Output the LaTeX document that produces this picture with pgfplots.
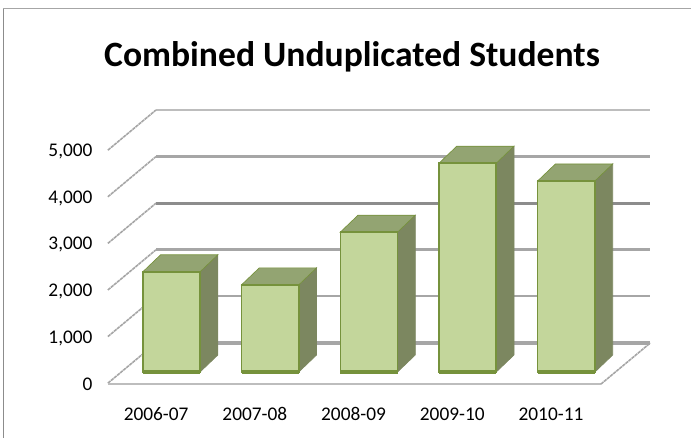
\documentclass[border=0pt]{standalone}
\usepackage{pgfplots}
\pgfplotsset{compat=1.18}
\usepackage{fontspec}
\setmainfont{Carlito}
\definecolor{barfront}{HTML}{C3D69B}
\definecolor{baredge}{HTML}{76923C}
\definecolor{bartop}{HTML}{93A472}
\definecolor{barside}{HTML}{7C8760}
\definecolor{gridA}{HTML}{A6A6A6}
\definecolor{gridB}{HTML}{8C8C8C}
\definecolor{gridC}{HTML}{BDBDBD}
% 1 reference pixel = 0.75pt; y data: 46.6 px per 1000, x data: 98.6 px per category
\pgfplotstableread{
x y
0 2150
1 1870
2 3000
3 4480
4 4100
}\bars
\begin{document}
\begin{tikzpicture}[x=0.75pt,y=0.75pt]
\useasboundingbox (0,0) rectangle (691,438);
\draw[color=gridB,line width=0.75pt] (3.5,0) -- (3.5,430);
\draw[color=gridA,line width=1.3pt] (3,429.5) -- (691,429.5);
\node[font=\bfseries\fontsize{26.7}{30}\selectfont,anchor=center] at (352,381) {Combined Unduplicated Students};
\begin{axis}[
  at={(80.9pt,39.75pt)},anchor=south west,
  scale only axis,width=369.75pt,height=184.5pt,
  xmin=-0.644,xmax=4.35,ymin=-279,ymax=5000,
  clip=false,
  axis line style={draw=none},
  major tick length=0pt,
  xtick={0,1,2,3,4},
  xticklabels={2006-07,2007-08,2008-09,2009-10,2010-11},
  ytick={0,1000,2000,3000,4000,5000},
  scaled y ticks=false,
  /pgf/number format/assume math mode=true,
  /pgf/number format/1000 sep={,},
  tick label style={font=\fontsize{14.5}{16}\selectfont},
  y tick label style={yshift=-9.5pt,xshift=-8pt},
  x tick label style={yshift=-13pt,xshift=-11.5pt,text height=10pt,text depth=0pt},
]
% back wall grid
\addplot[gridC,line width=1.5pt] coordinates {(-0.157,5622) (4.85,5622)};
\addplot[gridA,line width=2.2pt] coordinates {(-0.157,4622) (4.85,4622)};
\addplot[gridB,line width=2.2pt] coordinates {(-0.157,3622) (4.85,3622)};
\addplot[gridA,line width=2.2pt] coordinates {(-0.157,2622) (4.85,2622)};
\addplot[gridA,line width=1.5pt] coordinates {(-0.157,1622) (4.85,1622)};
\addplot[gridA,line width=2.5pt] coordinates {(-0.157,622) (4.85,622)};
% side wall grid
\addplot[gridA,line width=1.2pt,dash pattern=on 2.5pt off 0.5pt] coordinates {(-0.644,4760) (-0.157,5622)};
\addplot[gridA,line width=1.2pt,dash pattern=on 2.5pt off 0.5pt] coordinates {(-0.644,3760) (-0.157,4622)};
\addplot[gridA,line width=1.2pt,dash pattern=on 2.5pt off 0.5pt] coordinates {(-0.644,2760) (-0.157,3622)};
\addplot[gridA,line width=1.2pt,dash pattern=on 2.5pt off 0.5pt] coordinates {(-0.644,1760) (-0.157,2622)};
\addplot[gridA,line width=1.2pt,dash pattern=on 2.5pt off 0.5pt] coordinates {(-0.644,760) (-0.157,1622)};
\addplot[gridA,line width=1.2pt,dash pattern=on 2.5pt off 0.5pt] coordinates {(-0.644,-240) (-0.157,622)};
% floor
\addplot[gridC,line width=2pt] coordinates {(-0.644,-260) (4.35,-260)};
\addplot[gridA,line width=1.2pt,dash pattern=on 2.5pt off 0.5pt] coordinates {(4.35,-260) (4.85,622)};
% sides
\addplot[fill=barside,draw=barside,line width=0.5pt] coordinates {(0.29,0) (0.47,365) (0.47,2515) (0.29,2150)} -- cycle;
\addplot[fill=barside,draw=barside,line width=0.5pt] coordinates {(1.29,0) (1.47,365) (1.47,2235) (1.29,1870)} -- cycle;
\addplot[fill=barside,draw=barside,line width=0.5pt] coordinates {(2.29,0) (2.47,365) (2.47,3365) (2.29,3000)} -- cycle;
\addplot[fill=barside,draw=barside,line width=0.5pt] coordinates {(3.29,0) (3.47,365) (3.47,4845) (3.29,4480)} -- cycle;
\addplot[fill=barside,draw=barside,line width=0.5pt] coordinates {(4.29,0) (4.47,365) (4.47,4465) (4.29,4100)} -- cycle;
% tops
\addplot[fill=bartop,draw=baredge,line width=0.5pt] coordinates {(-0.29,2150) (-0.11,2515) (0.47,2515) (0.29,2150)} -- cycle;
\addplot[fill=bartop,draw=baredge,line width=0.5pt] coordinates {(0.71,1870) (0.89,2235) (1.47,2235) (1.29,1870)} -- cycle;
\addplot[fill=bartop,draw=baredge,line width=0.5pt] coordinates {(1.71,3000) (1.89,3365) (2.47,3365) (2.29,3000)} -- cycle;
\addplot[fill=bartop,draw=baredge,line width=0.5pt] coordinates {(2.71,4480) (2.89,4845) (3.47,4845) (3.29,4480)} -- cycle;
\addplot[fill=bartop,draw=baredge,line width=0.5pt] coordinates {(3.71,4100) (3.89,4465) (4.47,4465) (4.29,4100)} -- cycle;
% fronts
\addplot[ybar,bar width=0.58,bar shift=0pt,fill=barfront,draw=baredge,line width=1.1pt] table[x=x,y=y] {\bars};
% heavy bottom edge of each bar
\addplot[baredge,line width=2.4pt] coordinates {(-0.29,0) (0.29,0)};
\addplot[baredge,line width=2.4pt] coordinates {(0.71,0) (1.29,0)};
\addplot[baredge,line width=2.4pt] coordinates {(1.71,0) (2.29,0)};
\addplot[baredge,line width=2.4pt] coordinates {(2.71,0) (3.29,0)};
\addplot[baredge,line width=2.4pt] coordinates {(3.71,0) (4.29,0)};
\end{axis}
\end{tikzpicture}
\end{document}
